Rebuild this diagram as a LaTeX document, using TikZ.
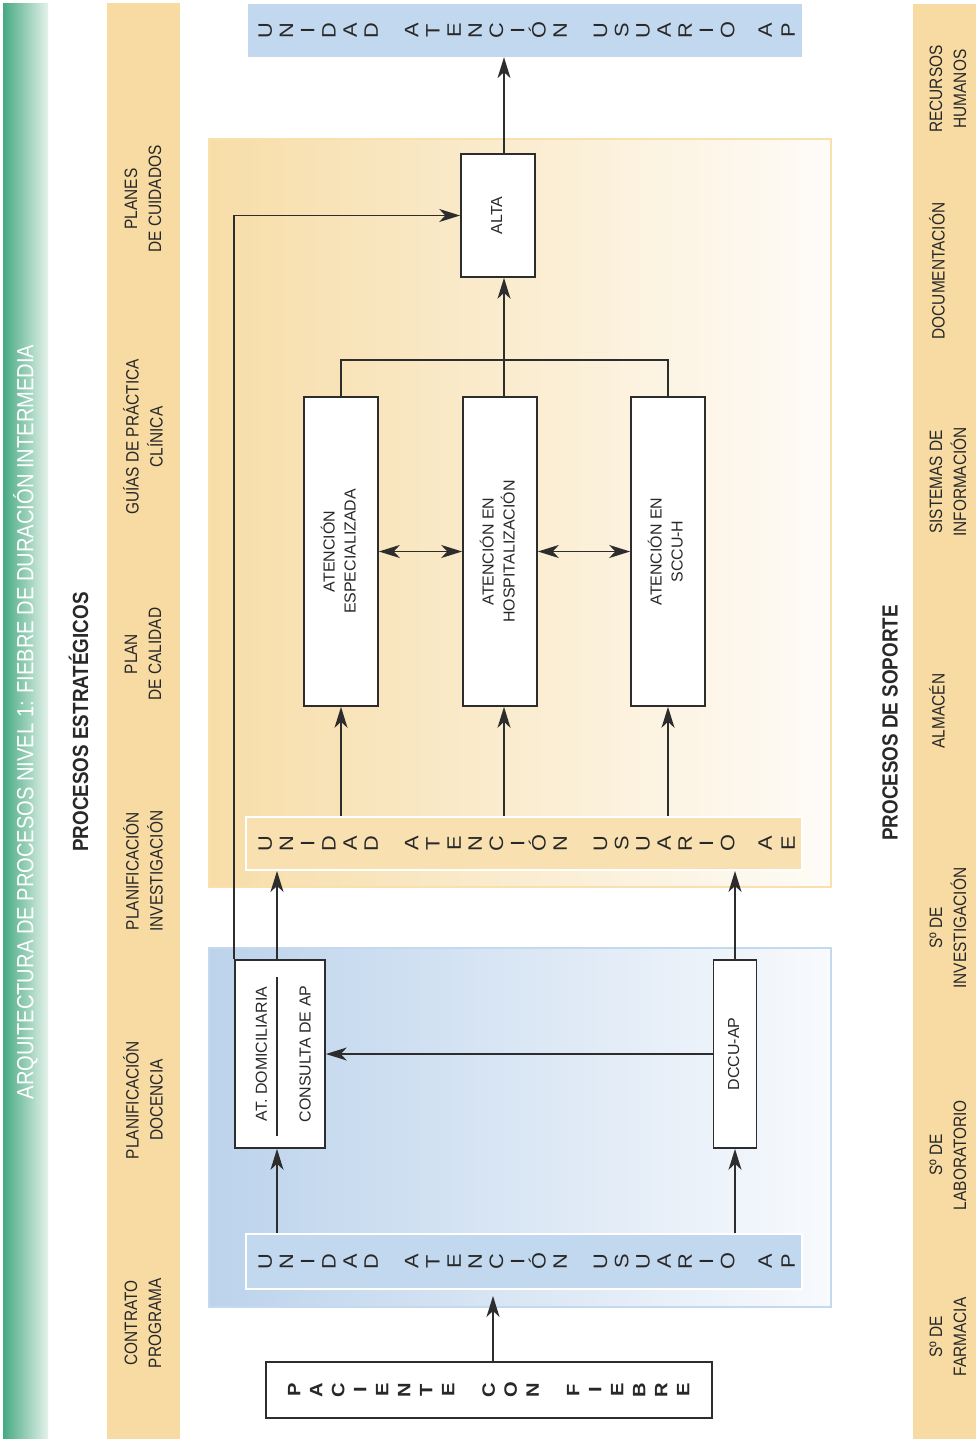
\documentclass[tikz,border=0pt]{standalone}
\usepackage{fontspec}
\setmainfont{Liberation Sans}
\newfontfamily\condfont{Liberation Sans}[FakeStretch=0.86]
\newfontfamily\widefont{Liberation Sans}[FakeStretch=1.12]
\usetikzlibrary{arrows.meta}
\definecolor{bandtan}{RGB}{247,219,163}
\definecolor{barblue}{RGB}{194,216,238}
\definecolor{bartan}{RGB}{248,224,176}
\definecolor{ttgreen}{RGB}{72,170,132}
\definecolor{ttgreenmid}{RGB}{112,189,158}
\definecolor{ttgreenend}{RGB}{228,242,235}
\definecolor{orleft}{RGB}{247,221,168}
\definecolor{orright}{RGB}{254,252,248}
\definecolor{orborder}{RGB}{250,224,172}
\definecolor{blleft}{RGB}{188,211,236}
\definecolor{blright}{RGB}{248,250,253}
\definecolor{blborder}{RGB}{196,216,238}
\definecolor{ink}{RGB}{45,45,45}
\definecolor{txt}{RGB}{40,40,40}
\newcommand\rtxt[2]{\rotatebox{90}{\fontsize{16}{#1}\selectfont\begin{tabular}{@{}c@{}}#2\end{tabular}}}
\newcommand\lrow[4]{\foreach \px/\c [count=\k] in #4 {\node[#3] (#1-\k) at (\px,#2) {\c};}}
\def\unidadAP{265/U,286.2/N,307.4/I,328.6/D,349.8/A,371/D,411.4/A,432.6/T,453.8/E,475/N,496.2/C,517.4/I,538.6/Ó,559.8/N,600.2/U,621.4/S,642.6/U,663.8/A,685/R,706.2/I,727.4/O,765/A,788/P}
\def\unidadAE{265/U,286.2/N,307.4/I,328.6/D,349.8/A,371/D,411.4/A,432.6/T,453.8/E,475/N,496.2/C,517.4/I,538.6/Ó,559.8/N,600.2/U,621.4/S,642.6/U,663.8/A,685/R,706.2/I,727.4/O,765/A,788/E}
\def\pacfiebre{294/P,316/A,338/C,360/I,382/E,404/N,426/T,448/E,488.5/C,510.5/O,532.5/N,573/F,595/I,617/E,639/B,661/R,683/E}
\begin{document}
\begin{tikzpicture}[x=1bp,y=-1bp,
  every node/.style={text=txt},
  tip/.tip={Stealth[length=21pt,width=13pt,inset=6pt]},
  arr/.style={draw=ink, line width=1.7pt, -tip},
  darr/.style={draw=ink, line width=1.7pt, tip-tip},
  ln/.style={draw=ink, line width=1.7pt},
  wbox/.style={draw=ink, fill=white, line width=1.7pt, inner sep=0pt},
  band/.style={fill=bandtan, inner sep=0pt, anchor=north west},
  lbl/.style={rotate=90, align=center, font=\condfont\fontsize{18}{24}\selectfont},
  ltr/.style={rotate=90, inner sep=0pt, text height=14pt, text depth=0pt, font=\widefont\fontsize{19.5}{19.5}\selectfont},
  ltrb/.style={rotate=90, inner sep=0pt, text height=13pt, text depth=0pt, font=\widefont\bfseries\fontsize{18}{18}\selectfont},
  bluebar/.style={fill=barblue, inner sep=0pt},
  tanbar/.style={fill=bartan, draw=white, line width=2pt, inner sep=0pt}]
\useasboundingbox (0,0) rectangle (976,1439);
% title bar
\node[inner sep=0pt, anchor=north west, minimum width=45bp, minimum height=1436bp,
  left color=ttgreen, middle color=ttgreenmid, right color=ttgreenend] (titlebar) at (3,3) {};
\node[text=white, rotate=90, font=\condfont\fontsize{23.5}{23.5}\selectfont] (title) at (25.5,722)
  {ARQUITECTURA DE PROCESOS NIVEL 1: FIEBRE DE DURACIÓN INTERMEDIA};
% strategic
\node[rotate=90, font=\condfont\bfseries\fontsize{22}{22}\selectfont] (pe) at (78.5,722) {PROCESOS ESTRATÉGICOS};
\node[band, minimum width=73bp, minimum height=1436bp] (stband) at (107,3) {};
\node[lbl] (s1) at (143,1323) {CONTRATO\\PROGRAMA};
\node[lbl] (s2) at (143,1100) {PLANIFICACIÓN\\DOCENCIA};
\node[lbl] (s3) at (143,871) {PLANIFICACIÓN\\INVESTIGACIÓN};
\node[lbl] (s4) at (143,654) {PLAN\\DE CALIDAD};
\node[lbl] (s5) at (143,437) {GUÍAS DE PRÁCTICA\\CLÍNICA};
\node[lbl] (s6) at (143,199) {PLANES\\DE CUIDADOS};
% support
\node[rotate=90, font=\condfont\bfseries\fontsize{22}{22}\selectfont] (ps) at (890,723) {PROCESOS DE SOPORTE};
\node[band, minimum width=63bp, minimum height=1435bp] (spband) at (913,4) {};
\node[lbl] (p1) at (948,1337) {Sº DE\\FARMACIA};
\node[lbl] (p2) at (948,1155) {Sº DE\\LABORATORIO};
\node[lbl] (p3) at (948,928) {Sº DE\\INVESTIGACIÓN};
\node[lbl] (p4) at (937,711) {ALMACÉN};
\node[lbl] (p5) at (948,482) {SISTEMAS DE\\INFORMACIÓN};
\node[lbl] (p6) at (937,271) {DOCUMENTACIÓN};
\node[lbl] (p7) at (948,89) {RECURSOS\\HUMANOS};
% big areas
\node[inner sep=0pt, anchor=north west, minimum width=622bp, minimum height=748bp,
  left color=orleft, right color=orright, draw=orborder, line width=2pt] (orbox) at (208,138) {};
\node[inner sep=0pt, anchor=north west, minimum width=622bp, minimum height=359bp,
  left color=blleft, right color=blright, draw=blborder, line width=2pt] (blbox) at (208,947) {};
% bars
\node[bluebar, minimum width=554bp, minimum height=53bp] (apTop) at (525,30.5) {};
\lrow{apt}{30.5}{ltr}{\unidadAP}
\node[tanbar, minimum width=556bp, minimum height=53bp] (aeBar) at (524,843.5) {};
\lrow{ae}{843.5}{ltr}{\unidadAE}
\node[bluebar, draw=white, line width=2pt, minimum width=556bp, minimum height=55bp] (apBot) at (524,1261.5) {};
\lrow{apb}{1261.5}{ltr}{\unidadAP}
% boxes
\node[wbox, minimum width=74bp, minimum height=123bp] (alta) at (498,215.5) {\rtxt{21}{ALTA}};
\node[wbox, minimum width=74bp, minimum height=309bp] (esp) at (341,551.5) {\rtxt{21}{ATENCIÓN\\ESPECIALIZADA}};
\node[wbox, minimum width=74bp, minimum height=309bp] (hosp) at (500,551.5) {\rtxt{21}{ATENCIÓN EN\\HOSPITALIZACIÓN}};
\node[wbox, minimum width=74bp, minimum height=309bp] (sccu) at (668,551.5) {\rtxt{21}{ATENCIÓN EN\\SCCU-H}};
\node[wbox, minimum width=90bp, minimum height=188bp] (atbox) at (280,1054) {\rtxt{44}{AT. DOMICILIARIA\\CONSULTA DE AP}};
\node[wbox, minimum width=43bp, minimum height=188bp] (dccu) at (735,1054) {\rtxt{21}{DCCU-AP}};
\node[wbox, minimum width=446bp, minimum height=56bp] (pac) at (489,1390) {};
\lrow{pc}{1390}{ltrb}{\pacfiebre}
% helper coordinates
\coordinate (cxa) at (504,0);
\coordinate (dv) at (277,0);
\coordinate (brk) at (0,360);
\coordinate (cxp) at (493,0);
% divider in atbox
\draw[ln] ([yshift=-18bp]atbox.north -| dv) -- ([yshift=13bp]atbox.south -| dv);
% connectors
\draw[arr] (alta.north -| cxa) -- (apTop.south -| cxa);
\draw[arr] (hosp.north -| cxa) -- (alta.south -| cxa);
\draw[ln] (esp.north) -- (esp.north |- brk) -- (sccu.north |- brk) -- (sccu.north);
\draw[darr] (esp.east) -- (hosp.west);
\draw[darr] (hosp.east) -- (sccu.west);
\draw[arr] (aeBar.north -| esp.south) -- (esp.south);
\draw[arr] (aeBar.north -| cxa) -- (hosp.south -| cxa);
\draw[arr] (aeBar.north -| sccu.south) -- (sccu.south);
\draw[arr] (atbox.north -| dv) -- (aeBar.south -| dv);
\draw[arr] (dccu.north) -- (aeBar.south -| dccu.north);
\draw[arr] (dccu.west) -- (atbox.east);
\draw[arr] (apBot.north -| dv) -- (atbox.south -| dv);
\draw[arr] (apBot.north -| dccu.south) -- (dccu.south);
\draw[arr, shorten >=6pt] (pac.north -| cxp) -- (apBot.south -| cxp);
\draw[arr] (atbox.north west) -- (atbox.north west |- alta.west) -- (alta.west);
\end{tikzpicture}
\end{document}
